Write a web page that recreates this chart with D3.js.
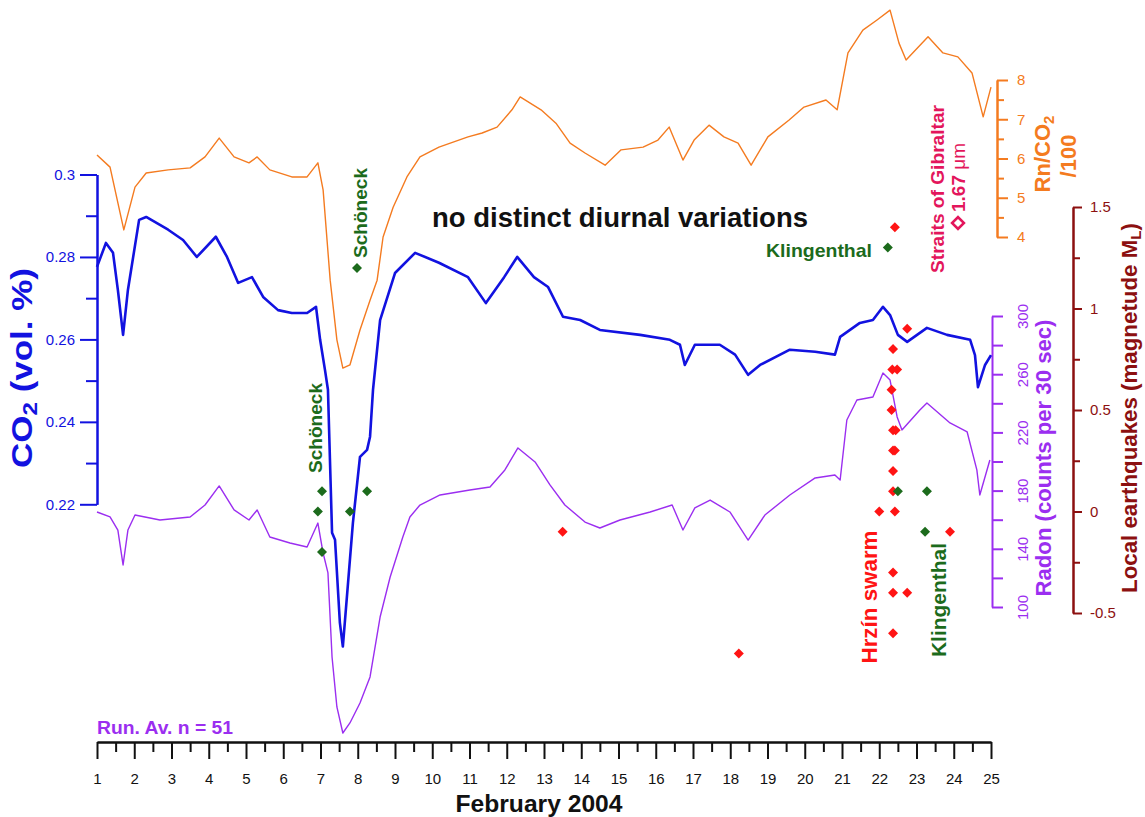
<!DOCTYPE html>
<html>
<head>
<meta charset="utf-8">
<script src="https://cdn.jsdelivr.net/npm/d3@7"></script>
<style>
  body { margin: 0; background: #fff; }
  svg { font-family: "Liberation Sans", Arial, sans-serif; }
</style>
</head>
<body>
<svg id="chart" width="1145" height="817"></svg>
<script>
// --- data ---
// Rn/CO2 ratio (/100)
var rnDays = [1.00,1.35,1.72,2.02,2.32,2.91,3.50,3.90,4.28,4.68,5.08,5.30,5.64,6.23,6.64,6.93,7.07,7.26,7.44,7.60,7.79,8.06,8.33,8.52,8.68,8.95,9.32,9.67,10.18,10.96,11.34,11.74,12.14,12.36,12.92,13.32,13.70,14.10,14.64,15.07,15.66,16.06,16.36,16.73,17.03,17.43,17.83,18.21,18.56,19.01,19.58,19.98,20.57,20.87,21.16,21.56,21.94,22.29,22.53,22.72,23.31,23.71,24.11,24.49,24.79,25.00];
var rnRatio = [6.09,5.78,4.18,5.27,5.63,5.71,5.76,6.04,6.52,6.04,5.89,6.04,5.71,5.53,5.53,5.89,5.20,2.90,1.38,0.66,0.74,1.63,2.39,2.90,4.00,4.76,5.53,6.04,6.29,6.55,6.65,6.80,7.24,7.57,7.24,6.90,6.39,6.14,5.83,6.22,6.29,6.47,6.80,5.96,6.47,6.85,6.55,6.39,5.83,6.55,6.98,7.31,7.49,7.24,8.69,9.27,9.53,9.78,8.94,8.51,9.10,8.69,8.59,8.18,7.06,7.82];

// CO2 (vol. %)
var co2Days = [1.00,1.24,1.43,1.56,1.70,1.83,2.13,2.32,2.91,3.31,3.68,4.19,4.49,4.79,5.16,5.46,5.86,6.23,6.64,6.88,6.99,7.12,7.20,7.31,7.39,7.52,7.60,7.74,7.87,8.06,8.25,8.33,8.41,8.60,9.00,9.54,10.18,10.96,11.44,11.93,12.28,12.73,13.11,13.51,13.97,14.50,15.58,16.38,16.65,16.78,17.05,17.72,18.13,18.48,18.80,19.60,20.28,20.81,20.95,21.48,21.83,22.10,22.29,22.50,22.75,23.28,23.82,24.44,24.57,24.65,24.84,25.00];
var co2Vals = [0.2776,0.2834,0.2810,0.2720,0.2611,0.2720,0.2890,0.2897,0.2866,0.2841,0.2800,0.2849,0.2800,0.2737,0.2751,0.2703,0.2671,0.2664,0.2664,0.2679,0.2599,0.2526,0.2478,0.2131,0.2114,0.1913,0.1855,0.2010,0.2155,0.2315,0.2332,0.2364,0.2478,0.2647,0.2761,0.2810,0.2786,0.2751,0.2688,0.2751,0.2800,0.2751,0.2727,0.2655,0.2647,0.2623,0.2611,0.2599,0.2587,0.2538,0.2587,0.2587,0.2563,0.2514,0.2538,0.2575,0.2570,0.2563,0.2606,0.2640,0.2647,0.2679,0.2659,0.2611,0.2594,0.2628,0.2611,0.2599,0.2562,0.2484,0.2538,0.2562];

// Radon (counts per 30 sec), running average n = 51
var radonDays = [1.00,1.35,1.56,1.70,1.83,2.02,2.69,3.50,3.90,4.28,4.68,5.08,5.30,5.64,6.18,6.64,6.93,7.07,7.20,7.31,7.44,7.60,7.79,8.06,8.33,8.60,8.87,9.21,9.40,9.67,10.21,11.01,11.55,11.95,12.30,12.76,13.16,13.56,14.10,14.50,15.04,15.85,16.44,16.73,17.05,17.46,17.99,18.48,18.93,19.60,20.28,20.81,20.95,21.13,21.40,21.83,22.10,22.29,22.48,22.61,23.09,23.28,23.90,24.36,24.62,24.70,24.97];
var radonVals = [165.3,161.9,152.9,128.9,152.9,163.2,159.8,161.9,170.1,183.2,166.7,159.8,166.7,148.1,144.0,141.2,157.7,137.1,123.4,65.6,31.3,13.4,20.3,34.0,51.9,93.1,120.6,148.1,161.9,170.1,177.0,180.4,182.5,194.2,209.3,199.7,183.9,170.1,158.4,154.3,159.8,165.3,170.1,152.9,168.1,173.5,165.3,146.0,163.2,177.0,188.7,190.7,187.3,228.5,242.3,244.3,260.8,256.0,230.6,221.7,235.4,240.2,226.5,220.3,194.2,177.0,201.0];

// local earthquakes (M_L)
var schoeneckDays = [7.98,7.04,8.25,6.93,7.79,7.04];
var schoeneckMag  = [1.2,0.1,0.1,0.0,0.0,-0.2];
var klingenthalDays = [22.23,22.50,23.28,23.23];
var klingenthalMag  = [1.3,0.1,0.1,-0.1];
var hrzinDays = [22.42,22.75,22.37,22.35,22.48,22.33,22.33,22.37,22.44,22.37,22.42,22.37,22.37,22.00,22.42,22.37,22.37,22.75,22.37,23.90,13.50,18.23];
var hrzinMag  = [1.4,0.9,0.8,0.7,0.7,0.6,0.5,0.4,0.4,0.3,0.3,0.2,0.1,0.0,0.0,-0.3,-0.4,-0.4,-0.6,-0.1,-0.1,-0.7];

// tick values
var dayTicks = [1,2,3,4,5,6,7,8,9,10,11,12,13,14,15,16,17,18,19,20,21,22,23,24,25];
var co2Ticks = [0.22,0.24,0.26,0.28,0.3];
var co2Minor = [0.23,0.25,0.27,0.29];
var rnTicks = [4,5,6,7,8];
var rnMinor = [4.5,5.5,6.5,7.5];
var radonTicks = [100,120,140,160,180,200,220,240,260,280,300];
var quakeTicks = [-0.5,0,0.5,1,1.5];
var quakeMinor = [-0.25,0.25,0.75,1.25];

var BLUE = '#1212e0', ORANGE = '#f47b20', PURPLE = '#9b2ef0',
    DARKRED = '#8c1010', GREEN = '#1c6b1c', RED = '#ff1414', CRIMSON = '#e3165c';

var svg = d3.select('#chart');

var x = d3.scaleLinear().domain([1, 25]).range([97, 991]);
var yCO2 = d3.scaleLinear().domain([0.22, 0.30]).range([504.3, 174.5]);
var yRn = d3.scaleLinear().domain([4, 8]).range([237, 80]);
var yRadon = d3.scaleLinear().domain([100, 300]).range([607, 316]);
var yQuake = d3.scaleLinear().domain([-0.5, 1.5]).range([613, 207]);

function plain(d) { return String(d); }

function styleAxis(g, color, width) {
    g.selectAll('path, line').attr('stroke', color).attr('stroke-width', width);
    g.selectAll('text').attr('fill', color).style('font-size', '15px')
        .style('font-family', '"Liberation Sans", Arial, sans-serif');
}

// bottom axis: half-day minor ticks + labelled days
var gxm = svg.append('g').attr('transform', 'translate(0,742)')
    .call(d3.axisBottom(x).tickValues(d3.range(1.5, 25, 1)).tickSize(10).tickSizeOuter(0).tickFormat(''));
styleAxis(gxm, '#111', 2);
var gx = svg.append('g').attr('transform', 'translate(0,742)')
    .call(d3.axisBottom(x).tickValues(dayTicks).tickSize(17).tickSizeOuter(0).tickPadding(14).tickFormat(plain));
styleAxis(gx, '#111', 2);

// CO2 axis (left)
var gc2 = svg.append('g').attr('transform', 'translate(97,0)')
    .call(d3.axisLeft(yCO2).tickValues(co2Minor).tickSize(11).tickSizeOuter(0).tickFormat(''));
styleAxis(gc2, BLUE, 2);
var gc = svg.append('g').attr('transform', 'translate(97,0)')
    .call(d3.axisLeft(yCO2).tickValues(co2Ticks).tickSize(17).tickSizeOuter(0).tickPadding(5).tickFormat(plain));
styleAxis(gc, BLUE, 2);

// Rn/CO2 axis
var gr2 = svg.append('g').attr('transform', 'translate(997,0)')
    .call(d3.axisRight(yRn).tickValues(rnMinor).tickSize(7).tickSizeOuter(0).tickFormat(''));
styleAxis(gr2, ORANGE, 2);
var gr = svg.append('g').attr('transform', 'translate(997,0)')
    .call(d3.axisRight(yRn).tickValues(rnTicks).tickSize(11).tickSizeOuter(0).tickPadding(9).tickFormat(plain));
styleAxis(gr, ORANGE, 2);

// radon axis, rotated labels every 40
var gra = svg.append('g').attr('transform', 'translate(992,0)')
    .call(d3.axisRight(yRadon).tickValues(radonTicks).tickSize(11).tickSizeOuter(0)
        .tickFormat(function (d) { return (d - 100) % 40 === 0 ? d : ''; }));
styleAxis(gra, PURPLE, 2);
gra.selectAll('.tick text')
    .attr('x', null).attr('dy', null)
    .attr('text-anchor', 'middle')
    .attr('transform', 'translate(36,0) rotate(-90)');

// earthquake axis
var gq2 = svg.append('g').attr('transform', 'translate(1073,0)')
    .call(d3.axisRight(yQuake).tickValues(quakeMinor).tickSize(7).tickSizeOuter(0).tickFormat(''));
styleAxis(gq2, DARKRED, 2);
var gq = svg.append('g').attr('transform', 'translate(1073,0)')
    .call(d3.axisRight(yQuake).tickValues(quakeTicks).tickSize(9).tickSizeOuter(0).tickPadding(8).tickFormat(plain));
styleAxis(gq, DARKRED, 2);

// curves
function drawLine(days, vals, yScale, color, w) {
    var pts = days.map(function (d, i) { return [d, vals[i]]; });
    svg.append('path')
        .datum(pts)
        .attr('fill', 'none')
        .attr('stroke', color)
        .attr('stroke-width', w)
        .attr('stroke-linejoin', 'round')
        .attr('d', d3.line()
            .x(function (p) { return x(p[0]); })
            .y(function (p) { return yScale(p[1]); }));
}
drawLine(rnDays, rnRatio, yRn, ORANGE, 1.4);
drawLine(radonDays, radonVals, yRadon, PURPLE, 1.4);
drawLine(co2Days, co2Vals, yCO2, BLUE, 2.6);

// earthquake diamonds
var diamond = d3.symbol().type(d3.symbolSquare).size(50);
function drawQuakes(days, mags, color) {
    svg.append('g').selectAll('path')
        .data(days.map(function (d, i) { return [d, mags[i]]; }))
        .enter().append('path')
        .attr('d', diamond)
        .attr('fill', color)
        .attr('transform', function (p) {
            return 'translate(' + x(p[0]) + ',' + yQuake(p[1]) + ') rotate(45)';
        });
}
drawQuakes(hrzinDays, hrzinMag, RED);
drawQuakes(schoeneckDays, schoeneckMag, GREEN);
drawQuakes(klingenthalDays, klingenthalMag, GREEN);

// text helpers
function vText(xb, yc, str, size, color, len) {
    var t = svg.append('text')
        .attr('transform', 'translate(' + xb + ',' + yc + ') rotate(-90)')
        .attr('text-anchor', 'middle')
        .attr('font-weight', 'bold')
        .attr('font-size', size)
        .attr('fill', color)
        .text(str);
    if (len) t.attr('textLength', len).attr('lengthAdjust', 'spacingAndGlyphs');
    return t;
}

// axis titles
var co2Title = svg.append('text')
    .attr('transform', 'translate(32,368) rotate(-90)')
    .attr('text-anchor', 'middle').attr('font-weight', 'bold')
    .attr('font-size', 29).attr('fill', BLUE)
    .attr('textLength', 200).attr('lengthAdjust', 'spacingAndGlyphs');
co2Title.append('tspan').text('CO');
co2Title.append('tspan').attr('font-size', 20).attr('dy', 5).text('2');
co2Title.append('tspan').attr('dy', -5).text(' (vol. %)');

var rnTitle = svg.append('text')
    .attr('transform', 'translate(1050,154) rotate(-90)')
    .attr('text-anchor', 'middle').attr('font-weight', 'bold')
    .attr('font-size', 22).attr('fill', ORANGE);
rnTitle.append('tspan').text('Rn/CO');
rnTitle.append('tspan').attr('font-size', 15).attr('dy', 4).text('2');
vText(1076, 156, '/100', 22, ORANGE);

vText(1051, 458, 'Radon (counts per 30 sec)', 22, PURPLE, 277);

var qTitle = svg.append('text')
    .attr('transform', 'translate(1137,408) rotate(-90)')
    .attr('text-anchor', 'middle').attr('font-weight', 'bold')
    .attr('font-size', 22).attr('fill', DARKRED)
    .attr('textLength', 370).attr('lengthAdjust', 'spacingAndGlyphs');
qTitle.append('tspan').text('Local earthquakes (magnetude M');
qTitle.append('tspan').attr('font-size', 15).attr('dy', 4).text('L');
qTitle.append('tspan').attr('dy', -4).text(')');

svg.append('text').attr('x', 539).attr('y', 812).attr('text-anchor', 'middle')
    .attr('font-weight', 'bold').attr('font-size', 23).attr('fill', '#111')
    .attr('textLength', 167).attr('lengthAdjust', 'spacingAndGlyphs')
    .text('February 2004');

// annotations
svg.append('text').attr('x', 620).attr('y', 227).attr('text-anchor', 'middle')
    .attr('font-weight', 'bold').attr('font-size', 27).attr('fill', '#111')
    .attr('textLength', 376).attr('lengthAdjust', 'spacingAndGlyphs')
    .text('no distinct diurnal variations');

svg.append('text').attr('x', 97).attr('y', 734)
    .attr('font-weight', 'bold').attr('font-size', 18).attr('fill', PURPLE)
    .attr('textLength', 136).attr('lengthAdjust', 'spacingAndGlyphs')
    .text('Run. Av. n = 51');

vText(367, 213, 'Schöneck', 19, GREEN, 90);
vText(322, 428, 'Schöneck', 19, GREEN, 90);

svg.append('text').attr('x', 872).attr('y', 257).attr('text-anchor', 'end')
    .attr('font-weight', 'bold').attr('font-size', 19).attr('fill', GREEN)
    .attr('textLength', 106).attr('lengthAdjust', 'spacingAndGlyphs')
    .text('Klingenthal');
vText(946, 600, 'Klingenthal', 20, GREEN, 114);
vText(877, 597, 'Hrzín swarm', 22, RED, 133);

vText(944, 189, 'Straits of Gibraltar', 19, CRIMSON, 168);
var um = svg.append('text')
    .attr('transform', 'translate(965,212) rotate(-90)')
    .attr('font-size', 19).attr('fill', CRIMSON);
um.append('tspan').attr('font-weight', 'bold').text('1.67 ');
um.append('tspan').text('μm');
svg.append('path')
    .attr('d', d3.symbol().type(d3.symbolSquare).size(70))
    .attr('fill', 'none').attr('stroke', CRIMSON).attr('stroke-width', 2.6)
    .attr('transform', 'translate(958,223) rotate(45)');
</script>
</body>
</html>
